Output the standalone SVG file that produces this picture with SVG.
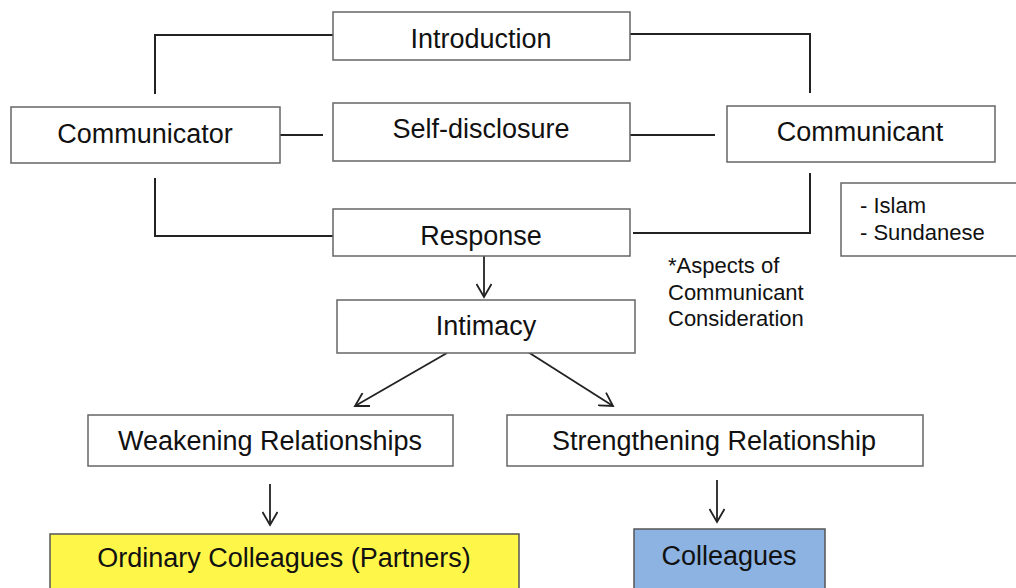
<svg xmlns="http://www.w3.org/2000/svg" width="1016" height="588" viewBox="0 0 1016 588">
  <defs>
    <style>
      .box { fill: #ffffff; stroke: #666666; stroke-width: 1.5; }
      .lbl { font-family: "Liberation Sans", Arial, sans-serif; font-size: 27px; fill: #111111; text-anchor: middle; }
      .note { font-family: "Liberation Sans", Arial, sans-serif; font-size: 22px; fill: #111111; }
      .wire { fill: none; stroke: #222222; stroke-width: 2; }
      .arrow { fill: none; stroke: #222222; stroke-width: 1.8; marker-end: url(#chev); }
    </style>
    <marker id="chev" markerUnits="userSpaceOnUse" viewBox="0 0 16 16" refX="14" refY="8" markerWidth="16" markerHeight="16" orient="auto">
      <path d="M1,0.5 L14,8 L1,15.5" fill="none" stroke="#222222" stroke-width="1.8"/>
    </marker>
  </defs>

  <rect width="1016" height="588" fill="#ffffff"/>

  <g id="connectors">
    <polyline class="wire" points="333,35 155,35 155,94"/>
    <polyline class="wire" points="630,34 810,34 810,93"/>
    <line class="wire" x1="280" y1="135" x2="323" y2="135"/>
    <line class="wire" x1="630" y1="135" x2="715" y2="135"/>
    <polyline class="wire" points="155,178 155,236 333,236"/>
    <polyline class="wire" points="810,173 810,233 633,233"/>
    <line class="arrow" x1="484" y1="256" x2="484" y2="297"/>
    <line class="arrow" x1="447" y1="353" x2="355" y2="406"/>
    <line class="arrow" x1="528" y1="352" x2="613" y2="406"/>
    <line class="arrow" x1="270" y1="484" x2="270" y2="525"/>
    <line class="arrow" x1="717" y1="480" x2="717" y2="522"/>
  </g>

  <g id="introduction">
    <rect class="box" x="333" y="12" width="297" height="48"/>
    <text class="lbl" x="481" y="48">Introduction</text>
  </g>

  <g id="communicator">
    <rect class="box" x="11" y="107" width="269" height="56"/>
    <text class="lbl" x="145" y="143">Communicator</text>
  </g>

  <g id="self-disclosure">
    <rect class="box" x="333" y="103" width="297" height="58"/>
    <text class="lbl" x="481" y="138">Self-disclosure</text>
  </g>

  <g id="communicant">
    <rect class="box" x="727" y="106" width="268" height="56"/>
    <text class="lbl" x="860" y="141">Communicant</text>
  </g>

  <g id="communicant-aspects">
    <rect class="box" x="841" y="183" width="180" height="73"/>
    <text class="note" x="860" y="213">- Islam</text>
    <text class="note" x="860" y="240">- Sundanese</text>
  </g>

  <g id="response">
    <rect class="box" x="333" y="209" width="297" height="47"/>
    <text class="lbl" x="481" y="245">Response</text>
  </g>

  <g id="aspects-note">
    <text class="note" x="668" y="273">*Aspects of</text>
    <text class="note" x="668" y="300">Communicant</text>
    <text class="note" x="668" y="326">Consideration</text>
  </g>

  <g id="intimacy">
    <rect class="box" x="337" y="300" width="298" height="53"/>
    <text class="lbl" x="486" y="335">Intimacy</text>
  </g>

  <g id="weakening">
    <rect class="box" x="88" y="415" width="365" height="51"/>
    <text class="lbl" x="270" y="450">Weakening Relationships</text>
  </g>

  <g id="strengthening">
    <rect class="box" x="507" y="415" width="416" height="51"/>
    <text class="lbl" x="714" y="450">Strengthening Relationship</text>
  </g>

  <g id="ordinary-colleagues">
    <rect x="50" y="534" width="469" height="60" fill="#fff64a" stroke="#555555" stroke-width="1.5"/>
    <text class="lbl" x="284" y="567">Ordinary Colleagues (Partners)</text>
  </g>

  <g id="colleagues">
    <rect x="634" y="529" width="191" height="65" fill="#8db3e2" stroke="#555555" stroke-width="1.5"/>
    <text class="lbl" x="729" y="565">Colleagues</text>
  </g>
</svg>
